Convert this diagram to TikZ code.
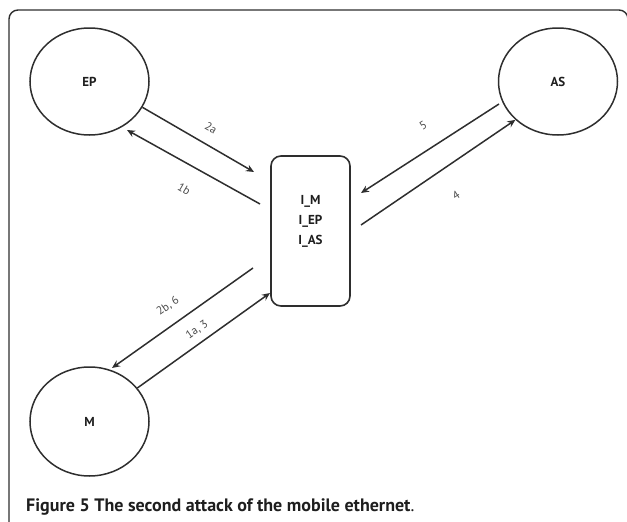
\documentclass[tikz,border=0pt]{standalone}
\usepackage{fontspec}
\setmainfont{PT Sans}
\usetikzlibrary{shapes.geometric,arrows.meta}
\definecolor{ln}{HTML}{2E2E2E}
\definecolor{tx}{HTML}{1E1E1E}
\definecolor{lb}{HTML}{4A4A4A}
\begin{document}
\begin{tikzpicture}[x=1pt,y=-1pt,
  ent/.style={ellipse,draw=ln,line width=1.5pt,minimum width=119pt,minimum height=107pt,inner sep=0pt,font=\fontsize{13}{14}\selectfont\bfseries,text=tx},
  hub/.style={rectangle,rounded corners=10pt,draw=ln,line width=1.6pt,minimum width=79pt,minimum height=150pt,inner sep=0pt},
  arr/.style={draw=ln,line width=1.5pt,-{Stealth[length=8pt,width=7pt]}},
  lab/.style={font=\fontsize{11.5}{12}\selectfont,text=lb,inner sep=0pt}]
\useasboundingbox (0,0) rectangle (627,522);
\draw[ln,line width=1.4pt,rounded corners=9pt] (9,530) -- (9,10) -- (628,10) -- (628,530);
% nodes
\node[ent] (EP) at (89.5,81.5) {EP};
\node[ent] (AS) at (558,81.5) {AS};
\node[ent,minimum height=109pt] (M) at (89.5,421.5) {M};
\node[hub] (I) at (310.5,231) {};
\node[align=center,font=\fontsize{13}{20}\selectfont\bfseries,text=tx,inner sep=0pt] (Itxt) at (310.5,221) {I\_M\\I\_EP\\I\_AS};
% free ends
\coordinate (e2a) at (254,172);
\coordinate (s1b) at (260,204);
\coordinate (e1b) at (127,130);
\coordinate (s5) at (499,104);
\coordinate (e5) at (361,193);
\coordinate (s4) at (361,225);
\coordinate (s2b) at (253,268);
\coordinate (e2b) at (112,368);
\coordinate (e1a) at (270,293);
% connectors
\draw[arr] (EP.-26) -- (e2a);
\draw[arr] (s1b) -- (e1b);
\draw[arr] (s5) -- (e5);
\draw[arr] (s4) -- (AS.222);
\draw[arr] (s2b) -- (e2b);
\draw[arr] (M.35) -- (e1a);
% labels
\node[lab,rotate=-30] (l2a) at (211,128) {2a};
\node[lab,rotate=-30] (l1b) at (184,189) {1b};
\node[lab,rotate=33] (l5) at (423,125) {5};
\node[lab,rotate=33] (l4) at (456,195) {4};
\node[lab,rotate=35] (l2b) at (168,306) {2b, 6};
\node[lab,rotate=35] (l1a) at (197,330) {1a, 3};
% caption
\node[anchor=base west,inner sep=0pt,font=\fontsize{18}{20}\selectfont,text=tx] (cap) at (26,511) {\textbf{Figure 5 The second attack of the mobile ethernet}.};
\end{tikzpicture}
\end{document}
